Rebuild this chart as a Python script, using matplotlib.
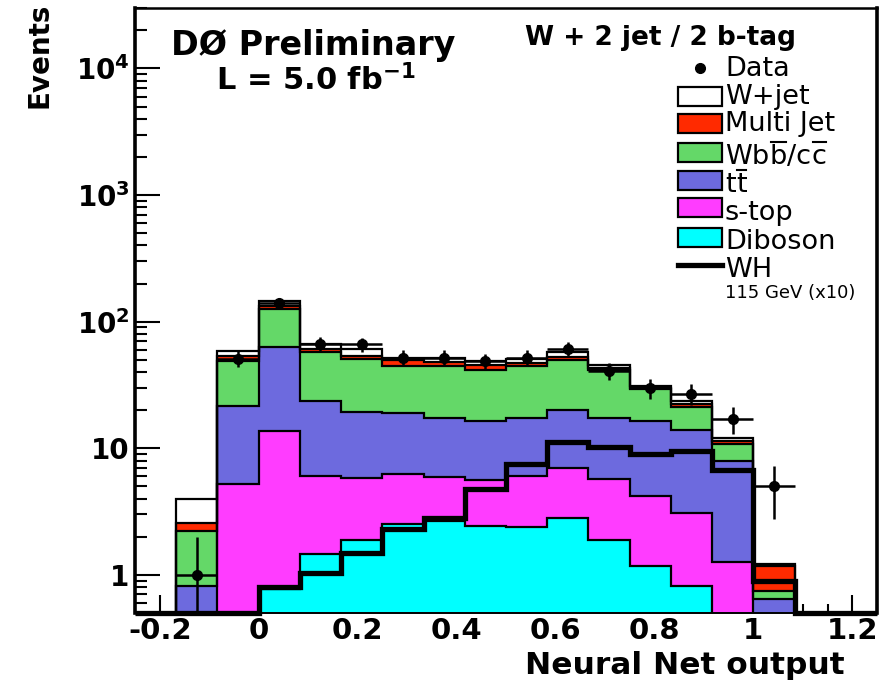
import numpy as np
import matplotlib
matplotlib.use("Agg")
import matplotlib.pyplot as plt
from matplotlib.patches import Rectangle
from matplotlib.lines import Line2D
from matplotlib.ticker import (FixedLocator, FixedFormatter, MultipleLocator,
                               LogLocator, NullFormatter, FuncFormatter)

plt.rcParams['font.family'] = ['DejaVu Sans']
plt.rcParams['mathtext.fontset'] = 'dejavusans'

# Binning of the neural-net discriminant
bin_lo, bin_hi, n_bins = -0.25, 1.25, 18
edges = np.linspace(bin_lo, bin_hi, n_bins + 1)
centers = 0.5 * (edges[:-1] + edges[1:])
half_width = 0.5 * (edges[1] - edges[0])

# Observed events per bin
data = np.array([0, 1, 51, 140, 67, 66, 52, 52, 49, 52, 61, 41, 30, 27, 17, 5, 0, 0])

# Background expectations per bin (stacked bottom to top)
diboson = [0, 0, 0, 0.78, 1.47, 1.87, 2.54, 2.65, 2.45, 2.38, 2.82, 1.87, 1.18, 0.82, 0, 0, 0, 0]
stop = [0, 0, 5.2, 13.0, 4.6, 4.0, 3.7, 3.3, 3.2, 3.7, 4.2, 3.8, 3.0, 2.25, 1.26, 0, 0, 0]
ttbar = [0, 0.81, 16.5, 49.0, 17.7, 13.3, 12.7, 11.5, 10.9, 11.3, 12.9, 11.7, 12.1, 10.9, 6.7, 0.65, 0, 0]
wbb = [0, 1.43, 27.6, 63.0, 33.5, 31.6, 26.1, 26.8, 25.1, 27.1, 30.1, 24.2, 13.2, 7.3, 2.8, 0.10, 0, 0]
multijet = [0, 0.35, 4.7, 8.0, 3.7, 3.2, 4.3, 3.6, 3.4, 2.8, 3.0, 1.6, 0.5, 1.1, 0.7, 0.43, 0, 0]
wjet = [0, 1.41, 5.0, 13.0, 5.8, 7.0, 2.7, 4.0, 4.0, 3.5, 5.0, 2.4, 1.0, 1.4, 0.7, 0.04, 0, 0]

# WH signal (115 GeV), scaled by 10
wh_x10 = np.array([0, 0, 0, 0.8, 1.04, 1.5, 2.3, 2.8, 4.8, 7.5, 11.2, 10.2, 9.0, 9.5, 6.7, 0.9, 0, 0])

# Legend labels: (text, overlined) pieces
bkg_names = [
    [("Diboson", False)],
    [("s-top", False)],
    [("t", False), ("t", True)],
    [("Wb", False), ("b", True), ("/c", False), ("c", True)],
    [("Multi Jet", False)],
    [("W+jet", False)],
]
bkg_colors = ["#00ffff", "#ff3cff", "#6d6ade", "#64d868", "#ff2a00", "#ffffff"]
bkg_values = [diboson, stop, ttbar, wbb, multijet, wjet]

y_min, y_max = 0.5, 3e4

W, H = 891, 681
fig = plt.figure(figsize=(W / 100, H / 100), dpi=100)
renderer = fig.canvas.get_renderer()
ax = fig.add_axes([135 / W, 1 - 613 / H, (877 - 135) / W, (613 - 8) / H])
ax.set_yscale('log', nonpositive='clip')
ax.set_xlim(bin_lo, bin_hi)
ax.set_ylim(y_min, y_max)
ax.set_axisbelow(True)

# Stacked backgrounds, drawn from the total downwards
stack = np.cumsum(np.array(bkg_values, dtype=float), axis=0)
for level, color in reversed(list(zip(stack, bkg_colors))):
    ax.stairs(level, edges, baseline=0, fill=True, facecolor=color,
              edgecolor='none', zorder=1)
    ax.stairs(level, edges, baseline=0, color='black', lw=1.6, zorder=1.1)

# Signal histogram; empty bins run along the lower edge of the frame
wh_draw = np.where(wh_x10 > 0, wh_x10, y_min)
ax.stairs(wh_draw, edges, baseline=None, color='black', lw=3.8, zorder=3,
          clip_on=False)

# Data with Poisson errors
mask = data > 0
ax.errorbar(centers[mask], data[mask], yerr=np.sqrt(data[mask]),
            xerr=half_width, fmt='o', color='black', ms=7, elinewidth=1.8,
            capsize=0, zorder=4)

# Axes styling
for side, lw in [('left', 2.6), ('right', 2.6), ('top', 1.8), ('bottom', 1.4)]:
    ax.spines[side].set_linewidth(lw)
    ax.spines[side].set_zorder(5)

ax.xaxis.set_major_locator(MultipleLocator(0.2))
ax.xaxis.set_minor_locator(MultipleLocator(0.05))
ax.xaxis.set_major_formatter(FuncFormatter(lambda v, p: f"{round(v, 1):g}"))
ax.yaxis.set_major_locator(FixedLocator([1, 10, 100, 1000, 10000]))
ax.yaxis.set_major_formatter(FixedFormatter(
    ["1", "10", r"$\mathbf{10^{2}}$", r"$\mathbf{10^{3}}$", r"$\mathbf{10^{4}}$"]))
ax.yaxis.set_minor_locator(LogLocator(base=10, subs=np.arange(2, 10)))
ax.yaxis.set_minor_formatter(NullFormatter())

ax.tick_params(axis='x', which='major', direction='in', length=13, width=1.5,
               top=False, pad=3, labelsize=21)
ax.tick_params(axis='x', which='minor', direction='in', length=6.5, width=1.5, top=False)
ax.tick_params(axis='y', which='major', direction='in', length=18, width=1.5,
               right=False, pad=4, labelsize=20)
ax.tick_params(axis='y', which='minor', direction='in', length=8.5, width=1.5, right=False)
for lab in ax.get_xticklabels() + ax.get_yticklabels():
    lab.set_fontweight('bold')

fig.text(845 / W, 1 - 666 / H, "Neural Net output", ha='right', va='center',
         fontsize=22.5, fontweight='bold')
fig.text(40 / W, 1 - 55 / H, "Events", ha='center', va='center', rotation=90,
         fontsize=20, fontweight='bold')

# Experiment label
fig.text(313 / W, 1 - 45 / H, "DØ Preliminary", ha='center', va='center',
         fontsize=24, fontweight='bold')
fig.text(316 / W, 1 - 80 / H, r"L = 5.0 fb$^{\mathbf{-1}}$", ha='center', va='center',
         fontsize=22, fontweight='bold')

# Legend block
fig.text(525 / W, 1 - 38 / H, "W + 2 jet / 2 b-tag", ha='left', va='center',
         fontsize=19, fontweight='bold')

box_x0, box_x1, box_h = 678, 722, 19
text_x = 725
row_y = [68, 96, 123, 152, 180, 208, 237, 265]
text_shift = [-2, -2, -2, 2, 2, 2, 2, 2]
legend_fs = 19.5
em_px = legend_fs * 100 / 72
cap_px = 0.73 * em_px


def legend_label(x_px, yc, shift, pieces):
    """Write a label from pieces, putting a bar over the flagged ones."""
    base = yc + cap_px / 2 + shift
    x = x_px
    for txt, bar in pieces:
        t = fig.text(x / W, 1 - base / H, txt, ha='left', va='baseline',
                     fontsize=legend_fs)
        bb = t.get_window_extent(renderer)
        if bar:
            y_bar = 1 - (base - cap_px - 2.5) / H
            fig.add_artist(Line2D([(bb.x0 + 1) / W, (bb.x1 - 1) / W], [y_bar, y_bar],
                                  lw=1.5, color='black', transform=fig.transFigure))
        x = bb.x1 + 0.5


fig.add_artist(Line2D([700 / W], [1 - row_y[0] / H], marker='o', ms=7,
                      color='black', transform=fig.transFigure))
legend_label(text_x, row_y[0], text_shift[0], [("Data", False)])

legend_order = list(zip(bkg_names, bkg_colors))[::-1]
for (pieces, color), yc, shift in zip(legend_order, row_y[1:7], text_shift[1:7]):
    fig.add_artist(Rectangle((box_x0 / W, 1 - (yc + box_h / 2) / H),
                             (box_x1 - box_x0) / W, box_h / H,
                             facecolor=color, edgecolor='black', lw=1.6,
                             transform=fig.transFigure))
    legend_label(text_x, yc, shift, pieces)

fig.add_artist(Line2D([box_x0 / W, box_x1 / W], [1 - row_y[7] / H] * 2, lw=3.8,
                      color='black', transform=fig.transFigure))
legend_label(text_x, row_y[7], text_shift[7], [("WH", False)])
fig.text(text_x / W, 1 - 293 / H, "115 GeV (x10)", ha='left', va='center', fontsize=13)

fig.savefig("out.png", dpi=100)
